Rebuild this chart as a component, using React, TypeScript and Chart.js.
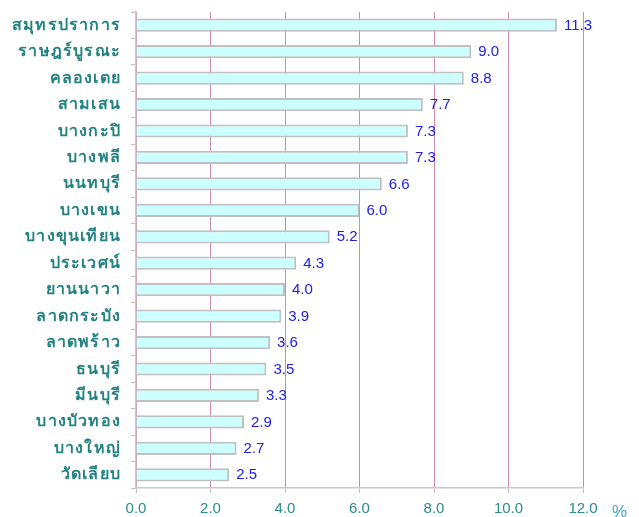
import React, { useEffect, useRef } from "react";
import { Chart, registerables } from "chart.js";

Chart.register(...registerables);

const categories = [
  "สมุทรปราการ", "ราษฎร์บูรณะ", "คลองเตย", "สามเสน", "บางกะปิ", "บางพลี",
  "นนทบุรี", "บางเขน", "บางขุนเทียน", "ประเวศน์", "ยานนาวา", "ลาดกระบัง",
  "ลาดพร้าว", "ธนบุรี", "มีนบุรี", "บางบัวทอง", "บางใหญ่", "วัดเลียบ",
];
const values = [11.3, 9.0, 8.8, 7.7, 7.3, 7.3, 6.6, 6.0, 5.2, 4.3, 4.0, 3.9, 3.6, 3.5, 3.3, 2.9, 2.7, 2.5];
const xMin = 0;
const xMax = 12;
const xStep = 2;
const unitLabel = "%";

const labelPlugin = {
  id: "customLabels",
  afterDatasetsDraw(chart: any) {
    const ctx = chart.ctx;
    const meta = chart.getDatasetMeta(0);
    const yScale = chart.scales.y;
    ctx.save();
    ctx.font = "bold 16px 'Noto Sans', 'DejaVu Sans', sans-serif";
    ctx.fillStyle = "#238282";
    ctx.textAlign = "right";
    ctx.textBaseline = "middle";
    (ctx as any).letterSpacing = "1.2px";
    categories.forEach((c, i) => {
      ctx.fillText(c, 121, yScale.getPixelForTick(i));
    });
    (ctx as any).letterSpacing = "0px";
    ctx.font = "15px 'Liberation Sans', Arial, sans-serif";
    ctx.fillStyle = "#2020e8";
    ctx.textAlign = "left";
    meta.data.forEach((el: any, i: number) => {
      ctx.fillText(values[i].toFixed(1), el.x + 7, el.y + 0.5);
    });
    ctx.font = "17px 'Liberation Sans', Arial, sans-serif";
    ctx.fillStyle = "#3aa8c8";
    ctx.fillText(unitLabel, 612, chart.chartArea.bottom + 24);
    ctx.restore();
  },
};

export default function App() {
  const ref = useRef<HTMLCanvasElement>(null);
  useEffect(() => {
    document.body.style.margin = "0";
    const chart = new Chart(ref.current!, {
      type: "bar",
      data: {
        labels: categories,
        datasets: [
          {
            data: values,
            backgroundColor: "#ccffff",
            borderColor: "#c0c0c0",
            borderWidth: 2,
            barPercentage: 0.5,
            categoryPercentage: 1,
          },
        ],
      },
      options: {
        indexAxis: "y",
        animation: false,
        responsive: false,
        layout: { padding: { top: 12, right: 56, bottom: 0, left: 0 } },
        plugins: { legend: { display: false }, tooltip: { enabled: false } },
        scales: {
          x: {
            min: xMin,
            max: xMax,
            ticks: {
              stepSize: xStep,
              color: "#2a8c8c",
              font: { size: 15, family: "'Liberation Sans', Arial, sans-serif" },
              padding: 7,
              callback: (v: any) => Number(v).toFixed(1),
            },
            grid: {
              color: "#d08cb0",
              tickColor: "#c0c0c0",
              tickLength: 5,
              lineWidth: 1,
              borderDash: [1, 1],
            } as any,
            border: { display: true, color: "#c8c8c8", width: 1.5 },
            afterFit: (s: any) => { s.height = 29; s.paddingLeft = 0; s.paddingRight = 0; },
          },
          y: {
            ticks: { display: false },
            grid: {
              drawOnChartArea: false,
              offset: true,
              tickLength: 5,
              color: "#c0c0c0",
            },
            border: { display: true, color: "#c8c8c8", width: 1.5 },
            afterFit: (s: any) => { s.width = 136; s.paddingTop = 0; s.paddingBottom = 0; },
          },
        },
      },
      plugins: [labelPlugin],
    });
    return () => chart.destroy();
  }, []);
  return (
    <div style={{ position: "absolute", left: 0, top: 0, width: 639, height: 517 }}>
      <canvas ref={ref} width={639} height={517} />
    </div>
  );
}
